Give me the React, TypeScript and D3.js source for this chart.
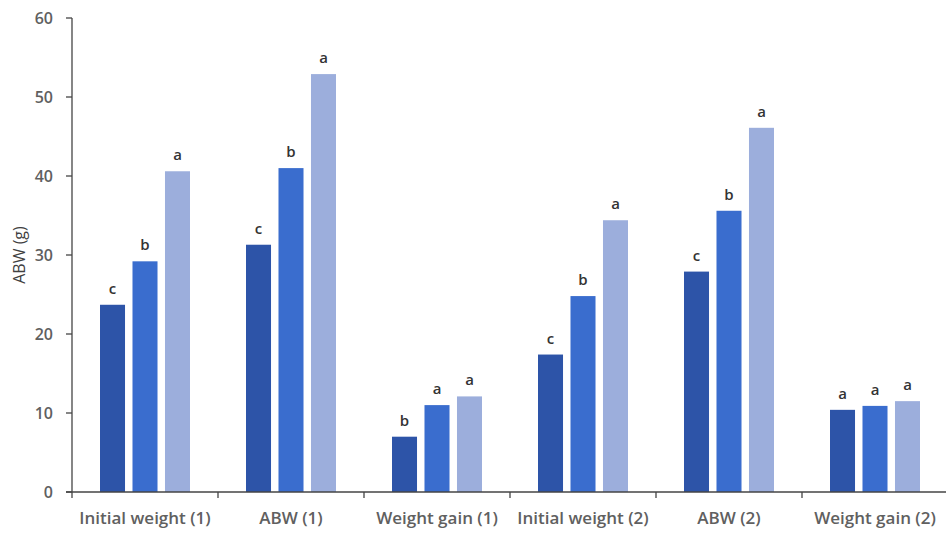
import React from "react";
import * as d3 from "d3";

const categories = [
  "Initial weight (1)",
  "ABW (1)",
  "Weight gain (1)",
  "Initial weight (2)",
  "ABW (2)",
  "Weight gain (2)",
];
const seriesKeys = ["T1", "T2", "T3"];
const seriesT1 = [23.7, 31.3, 7.0, 17.4, 27.9, 10.4];
const seriesT2 = [29.2, 41.0, 11.0, 24.8, 35.6, 10.9];
const seriesT3 = [40.6, 52.9, 12.1, 34.4, 46.1, 11.5];
const lettersT1 = ["c", "c", "b", "c", "c", "a"];
const lettersT2 = ["b", "b", "a", "b", "b", "a"];
const lettersT3 = ["a", "a", "a", "a", "a", "a"];
const yTicks = [0, 10, 20, 30, 40, 50, 60];
const colors = ["#2D54A8", "#3A6DCE", "#9CAEDC"];

const W = 946;
const H = 534;
const FONT = "'Open Sans', 'Noto Sans', sans-serif";

export default function App() {
  const left = 72;
  const right = 948;
  const top = 18;
  const bottom = 492;

  const y = d3.scaleLinear().domain([0, 60]).range([bottom, top]);
  const x0 = d3.scaleBand<string>().domain(categories).range([left, right]);
  const x1 = d3
    .scaleBand<string>()
    .domain(seriesKeys)
    .range([28, 118])
    .paddingInner(0.23);

  const values = [seriesT1, seriesT2, seriesT3];
  const letters = [lettersT1, lettersT2, lettersT3];

  return (
    <svg
      width={W}
      height={H}
      style={{ position: "absolute", left: 0, top: 0, background: "#fff" }}
      fontFamily={FONT}
    >
      {/* bars with significance letters */}
      {categories.map((cat, ci) => (
        <g key={cat} transform={`translate(${x0(cat)},0)`}>
          {seriesKeys.map((k, si) => {
            const v = values[si][ci];
            const bx = x1(k)!;
            const bw = x1.bandwidth();
            return (
              <g key={k}>
                <rect
                  x={bx}
                  y={y(v)}
                  width={bw}
                  height={y(0) - y(v)}
                  fill={colors[si]}
                />
                <text
                  x={bx + bw / 2}
                  y={y(v) - 11}
                  textAnchor="middle"
                  fontSize={15}
                  fontWeight={600}
                  fill="#333"
                >
                  {letters[si][ci]}
                </text>
              </g>
            );
          })}
        </g>
      ))}

      {/* y axis */}
      <line x1={left} x2={left} y1={top} y2={bottom} stroke="#444" strokeWidth={1.3} />
      {yTicks.map((t) => (
        <g key={t}>
          <line x1={left - 6} x2={left} y1={y(t)} y2={y(t)} stroke="#444" strokeWidth={1.3} />
          <text
            x={left - 19}
            y={y(t)}
            dy="0.35em"
            textAnchor="end"
            fontSize={16}
            fontWeight={600}
            fill="#606060"
          >
            {t}
          </text>
        </g>
      ))}
      <text
        transform={`translate(25,255) rotate(-90)`}
        textAnchor="middle"
        fontSize={16}
        fontWeight={500}
        fill="#404040"
      >
        ABW (g)
      </text>

      {/* x axis */}
      <line x1={left - 6} x2={W} y1={bottom} y2={bottom} stroke="#444" strokeWidth={1.3} />
      {categories.map((cat) => (
        <g key={cat}>
          <line
            x1={x0(cat)!}
            x2={x0(cat)!}
            y1={bottom}
            y2={bottom + 6}
            stroke="#444"
            strokeWidth={1.3}
          />
          <text
            x={x0(cat)! + x0.bandwidth() / 2}
            y={bottom + 32}
            textAnchor="middle"
            fontSize={17}
            fontWeight={600}
            fill="#606060"
          >
            {cat}
          </text>
        </g>
      ))}
    </svg>
  );
}
